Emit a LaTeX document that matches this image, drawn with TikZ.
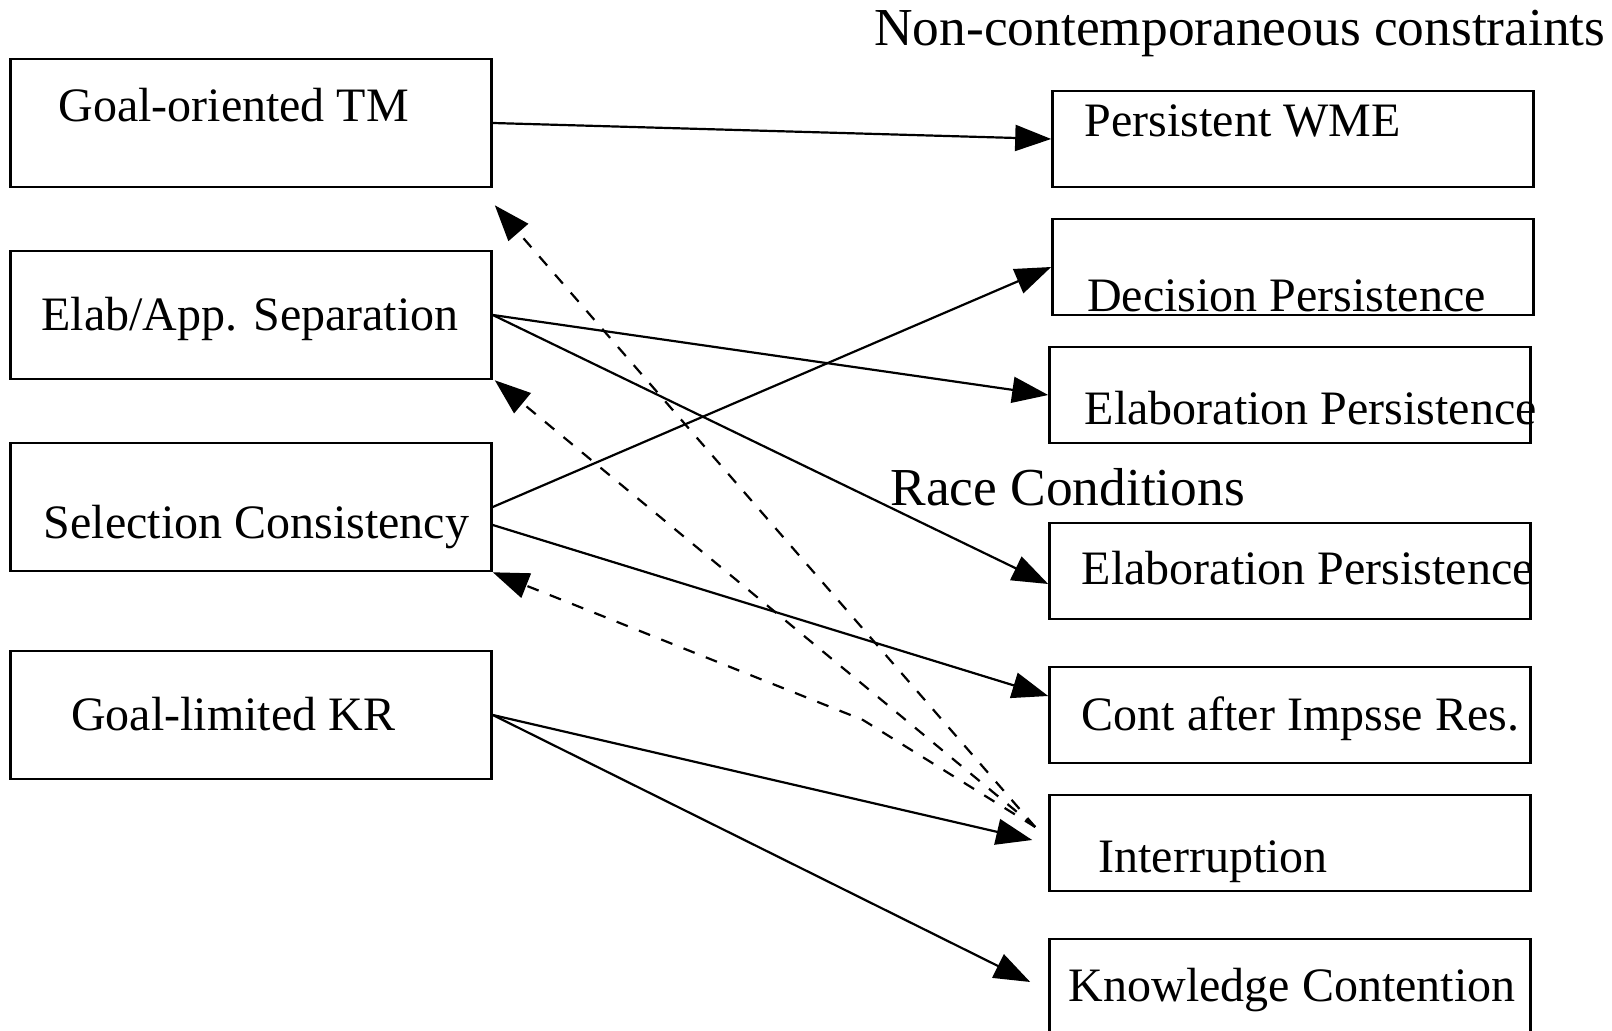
\documentclass[tikz,border=0pt]{standalone}
\usepackage{fontspec}
\setmainfont{Liberation Serif}
\usetikzlibrary{arrows.meta}

\tikzset{
  box/.style={draw, line width=1.3pt, inner sep=0pt, minimum width=240.5pt},
  tallbox/.style={box, minimum height=64pt},
  flatbox/.style={box, minimum height=48pt},
  boxtext/.style={anchor=base west, inner sep=0pt, font=\fontsize{24}{28}\selectfont},
  headtext/.style={anchor=base west, inner sep=0pt, font=\fontsize{26.7}{30}\selectfont},
  link/.style={-{Triangle[length=18pt, width=13pt]}, line width=1.1pt},
  backlink/.style={link, dash pattern=on 6pt off 6pt},
}

\begin{document}
\begin{tikzpicture}[x=0.5pt, y=-0.5pt]
\useasboundingbox (0,0) rectangle (1612,1031);
% group headings
\node[headtext] (noncon) at (874,46) {Non-contemporaneous constraints};
\node[headtext] (race) at (890,506) {Race Conditions};
% left column
\node[tallbox] (tm) at (251,123) {};
\node[boxtext] (tmtext) at (58,121.7) {Goal-oriented TM};
\node[tallbox] (sep) at (251,315) {};
\node[boxtext] (septext) at (41,331) {Elab/App. Separation};
\node[tallbox] (sel) at (251,507) {};
\node[boxtext] (seltext) at (43.3,538.3) {Selection Consistency};
\node[tallbox] (kr) at (251,715) {};
\node[boxtext] (krtext) at (70.7,730) {Goal-limited KR};
% right column
\node[flatbox] (wme) at (1293,139) {};
\node[boxtext] (wmetext) at (1084.5,137) {Persistent WME};
\node[flatbox] (dec) at (1293,267) {};
\node[boxtext] (dectext) at (1086.7,311.7) {Decision Persistence};
\node[flatbox] (elab) at (1290,395) {};
\node[boxtext] (elabtext) at (1084.5,425) {Elaboration Persistence};
\node[flatbox] (elabb) at (1290,571) {};
\node[boxtext] (elabbtext) at (1081.5,585) {Elaboration Persistence};
\node[flatbox] (cont) at (1290,715) {};
\node[boxtext] (conttext) at (1081.5,730) {Cont after Impsse Res.};
\node[flatbox] (intr) at (1290,843) {};
\node[boxtext] (intrtext) at (1098,872) {Interruption};
\node[flatbox] (know) at (1290,987) {};
\node[boxtext] (knowtext) at (1068.5,1001.5) {Knowledge Contention};
% solid links
\draw[link] (tm.east) -- (wme.west);
\draw[link] (sep.east) -- (elab.west);
\draw[link] (sep.east) -- ([yshift=-6.5pt]elabb.west);
\draw[link] (sel.east) -- (dec.west);
\draw[link] ([yshift=-9pt]sel.east) -- ([yshift=9.5pt]cont.west);
\draw[link] (kr.east) -- ([xshift=-8pt, yshift=1.5pt]intr.west);
\draw[link] (kr.east) -- ([xshift=-9pt, yshift=2.5pt]know.west);
% dashed links back from interruption
\coordinate (src) at ([xshift=-6.5pt, yshift=8pt]intr.west);
\draw[backlink] (src) -- ([xshift=1pt, yshift=-8.5pt]tm.south east);
\draw[backlink] (src) -- ([xshift=1pt]sep.south east);
\draw[backlink] (src) -- (863,720) -- (sel.south east);
\end{tikzpicture}
\end{document}
